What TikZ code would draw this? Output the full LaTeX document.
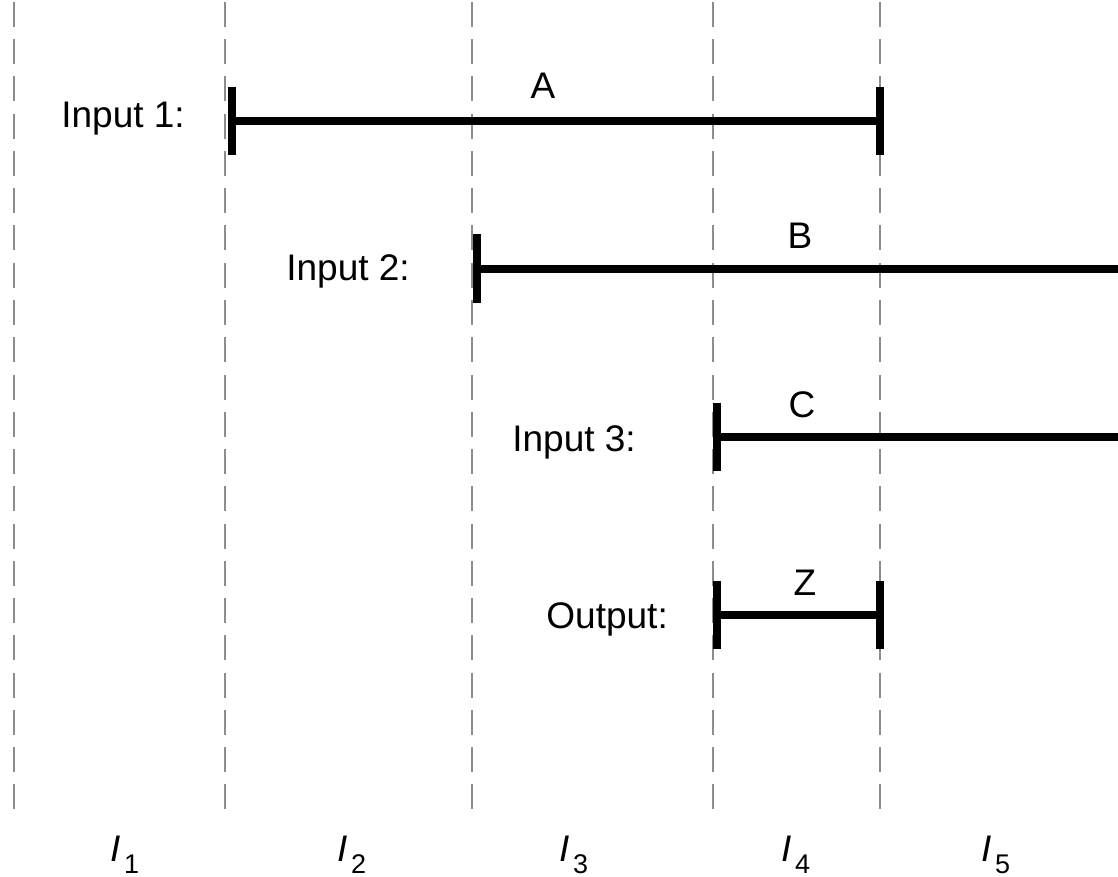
\documentclass[tikz,border=0pt]{standalone}
\usepackage{fontspec}
\setmainfont{Liberation Sans}
\begin{document}
\begin{tikzpicture}[x=1pt,y=-1pt,
  grid/.style={draw=black!45, line width=2.3, dash pattern=on 25 off 12.25},
  bar/.style={line width=8},
  tee/.style={line width=8},
  lbl/.style={inner sep=0, font=\fontsize{37}{42}\selectfont},
  ivl/.style={inner sep=0, anchor=base, font=\fontsize{37}{42}\selectfont}]
\useasboundingbox (0,0) rectangle (1118,877);

% interval boundaries
\foreach \x/\n in {14/g1,225/g2,472/g3,713/g4,880/g5}{
  \coordinate (\n t) at (\x,2);
  \coordinate (\n b) at (\x,812);
  \draw[grid] (\n t) -- (\n b);
}

% end points of the signal bars
\coordinate (a1) at (232,121.5);
\coordinate (a2) at (880,121.5);
\coordinate (b1) at (477,268.5);
\coordinate (b2) at (1118,268.5);
\coordinate (c1) at (717,436.5);
\coordinate (c2) at (1118,436.5);
\coordinate (z1) at (717,614.5);
\coordinate (z2) at (880,614.5);

% bars
\draw[bar] (a1) -- (a2);
\draw[bar] (b1) -- (b2);
\draw[bar] (c1) -- (c2);
\draw[bar] (z1) -- (z2);

% end ticks
\foreach \p in {a1,a2,b1,c1,z1,z2}{
  \draw[tee] ([yshift=-34]\p) -- ([yshift=34]\p);
}

% row labels
\node[lbl, anchor=base east] (in1) at (185,128) {Input 1:};
\node[lbl, anchor=base east] (in2) at (410,280) {Input 2:};
\node[lbl, anchor=base east] (in3) at (636,451) {Input 3:};
\node[lbl, anchor=base east] (out) at (668,628) {Output:};

% bar names
\node[lbl, anchor=base] (la) at (543,99) {A};
\node[lbl, anchor=base] (lb) at (800,249) {B};
\node[lbl, anchor=base] (lc) at (802,417) {C};
\node[lbl, anchor=base] (lz) at (805,595) {Z};

% interval names
\foreach \x/\k in {125/1,352/2,574/3,796/4,996/5}{
  \node[ivl] (i\k) at (\x,861) {\itshape I\upshape\kern3pt\raisebox{-12pt}{\fontsize{27}{27}\selectfont \k}};
}
\end{tikzpicture}
\end{document}
